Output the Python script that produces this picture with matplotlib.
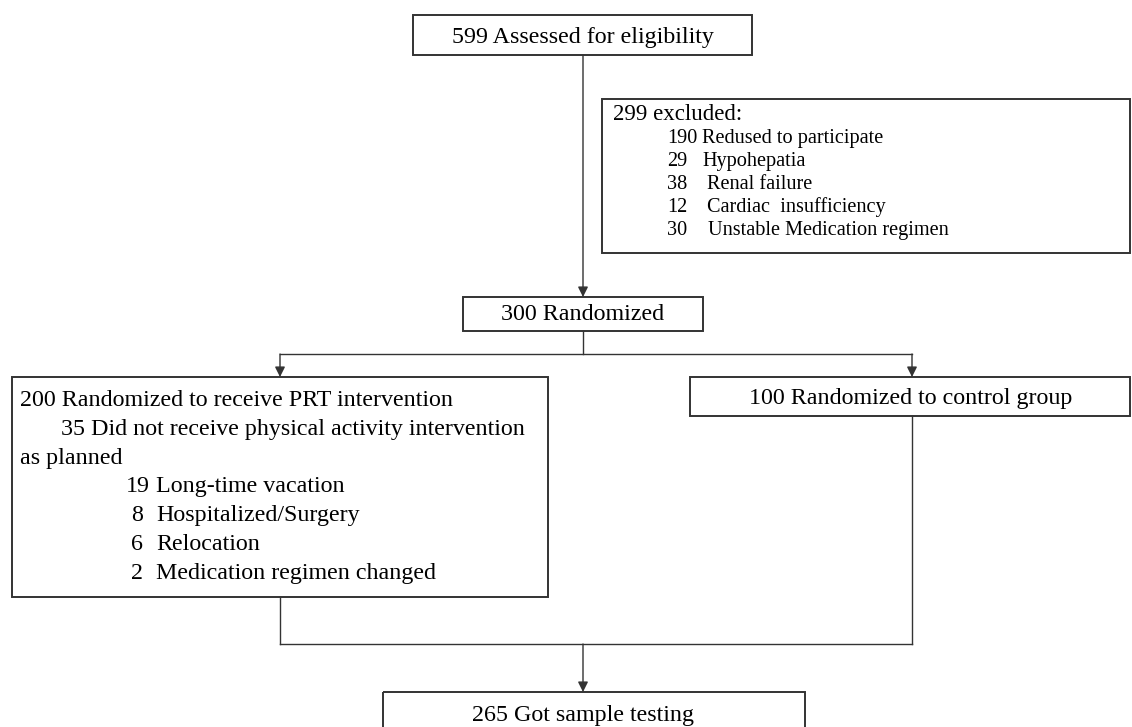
import matplotlib.pyplot as plt
from matplotlib.patches import Rectangle

# box texts
assessed = "599 Assessed for eligibility"
excluded_head = "299 excluded:"
excluded_n = ["190", "29", "38", "12", "30"]
excluded_lab = ["Redused to participate", "Hypohepatia", "Renal failure",
                "Cardiac  insufficiency", "Unstable Medication regimen"]
randomized = "300 Randomized"
prt_head = "200 Randomized to receive PRT intervention"
prt_sub = "35 Did not receive physical activity intervention"
prt_sub2 = "as planned"
prt_n = ["19", "8", "6", "2"]
prt_lab = ["Long-time vacation", "Hospitalized/Surgery", "Relocation",
           "Medication regimen changed"]
control = "100 Randomized to control group"
final = "265 Got sample testing"

W, H = 1132, 727
plt.rcParams['font.family'] = ['Liberation Serif', 'DejaVu Serif']
fig = plt.figure(figsize=(W / 100, H / 100), dpi=100)
ax = fig.add_axes([0, 0, 1, 1])
ax.set_xlim(0, W)
ax.set_ylim(H, 0)
ax.axis('off')

lc = '#333333'
fs = 17.3
fs_small = 14.6


def box(x0, y0, x1, y1):
    ax.add_patch(Rectangle((x0, y0), x1 - x0, y1 - y0, fill=False, ec=lc, lw=1.4))


def line(xs, ys):
    ax.plot(xs, ys, color=lc, lw=1)


def arrow(x, y0, y1):
    ax.annotate('', xy=(x, y1), xytext=(x, y0),
                arrowprops=dict(arrowstyle='-|>', color=lc, lw=1, mutation_scale=15,
                                shrinkA=0, shrinkB=0))


def txt(x, y, s, size=fs, ha='left'):
    ax.text(x, y, s, ha=ha, va='baseline', fontsize=size)


# top box
box(413, 15, 752, 55)
txt(583, 43, assessed, ha='center')
arrow(583, 55, 297)

# excluded box
box(602, 99, 1130, 253)
txt(613, 120, excluded_head, size=16.5)
lab_x = [702, 702, 707, 707, 708]
for i in range(len(excluded_n)):
    y = 143 + i * 23
    txt(667, y, excluded_n[i], size=fs_small)
    txt(lab_x[i], y, excluded_lab[i], size=fs_small)

# randomized
box(463, 297, 703, 331)
txt(583, 320, randomized, ha='center')
line([583, 583], [331, 354])
line([280, 912], [354, 354])
arrow(280, 354, 377)
arrow(912, 354, 377)

# PRT box
box(12, 377, 548, 597)
step = 28.8
base = 406
txt(20, base, prt_head)
txt(61, base + step, prt_sub)
txt(20, base + 2 * step, prt_sub2)
num_x = [126, 131, 131, 131]
for i in range(len(prt_n)):
    y = base + (3 + i) * step
    txt(num_x[i], y, prt_n[i])
    txt(156, y, prt_lab[i])

# control box
box(690, 377, 1130, 416)
txt(911, 404, control, ha='center')

# merge
line([280, 280], [597, 644])
line([912, 912], [416, 644])
line([280, 912], [644, 644])
arrow(583, 644, 692)

# final box
box(383, 692, 805, 740)
txt(583, 721, final, ha='center')

fig.savefig('out.png', dpi=100)
